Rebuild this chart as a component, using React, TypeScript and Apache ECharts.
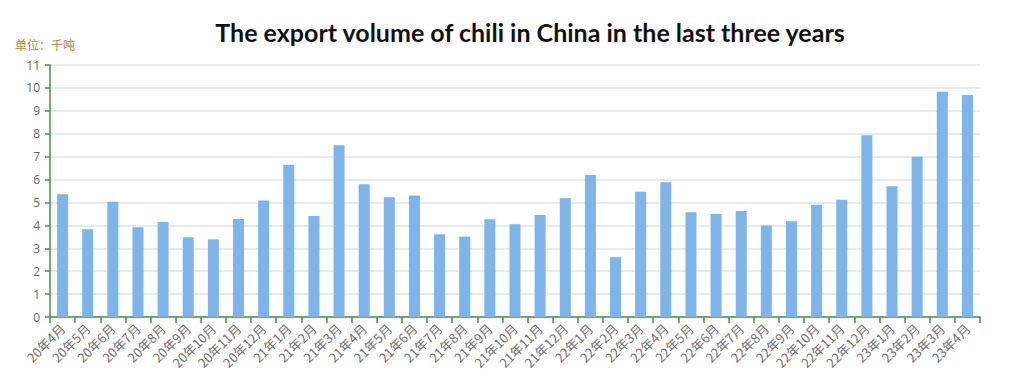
import React, { useEffect, useRef } from "react";
import * as echarts from "echarts";

const categories = [
  "20年4月", "20年5月", "20年6月", "20年7月", "20年8月", "20年9月", "20年10月", "20年11月", "20年12月",
  "21年1月", "21年2月", "21年3月", "21年4月", "21年5月", "21年6月", "21年7月", "21年8月", "21年9月", "21年10月", "21年11月", "21年12月",
  "22年1月", "22年2月", "22年3月", "22年4月", "22年5月", "22年6月", "22年7月", "22年8月", "22年9月", "22年10月", "22年11月", "22年12月",
  "23年1月", "23年2月", "23年3月", "23年4月",
];

const exportVolume = [
  5.36, 3.83, 5.03, 3.92, 4.15, 3.48, 3.39, 4.28, 5.08,
  6.65, 4.41, 7.5, 5.79, 5.23, 5.3, 3.61, 3.51, 4.27, 4.05, 4.45, 5.18,
  6.2, 2.61, 5.47, 5.88, 4.57, 4.5, 4.63, 3.99, 4.18, 4.9, 5.12, 7.93,
  5.71, 7.0, 9.83, 9.69,
];

const titleText = "The export volume of chili in China in the last three years";
const unitText = "单位：千吨";

export default function App() {
  const ref = useRef<HTMLDivElement>(null);
  useEffect(() => {
    if (!ref.current) return;
    const chart = echarts.init(ref.current, null, { renderer: "svg" });
    chart.setOption({
      animation: false,
      backgroundColor: "#ffffff",
      title: {
        text: titleText,
        left: 525,
        textAlign: "center",
        top: 14,
        textStyle: {
          fontFamily: "Lato",
          fontWeight: 700,
          fontSize: 25,
          color: "#111111",
        },
      },
      graphic: [
        {
          type: "text",
          left: 15,
          top: 38,
          style: {
            text: unitText,
            fill: "#c47a35",
            font: "12px 'Noto Sans CJK SC'",
          },
        },
      ],
      grid: { left: 50, right: 44, top: 65, bottom: 70, containLabel: false },
      xAxis: {
        type: "category",
        data: categories,
        boundaryGap: true,
        axisLine: { show: true, lineStyle: { color: "#3c9a3c", width: 1.5 } },
        axisTick: { show: true, alignWithLabel: false, length: 6, lineStyle: { color: "#3c9a3c", width: 1.5 } },
        axisLabel: {
          interval: 0,
          rotate: 45,
          color: "#707070",
          fontSize: 13,
          fontFamily: "Noto Sans CJK SC",
          margin: 9,
        },
      },
      yAxis: {
        type: "value",
        min: 0,
        max: 11,
        interval: 1,
        axisLine: { show: true, lineStyle: { color: "#3c9a3c", width: 1.5 } },
        axisTick: { show: true, length: 5, lineStyle: { color: "#3c9a3c", width: 1.5 } },
        axisLabel: { color: "#666666", fontSize: 12, fontFamily: "Open Sans", margin: 10 },
        splitLine: { show: true, lineStyle: { color: "#e3e3e3", width: 1.5 } },
      },
      series: [
        {
          type: "bar",
          data: exportVolume,
          barWidth: 11,
          itemStyle: { color: "#7cb4ec" },
        },
      ],
    });
    return () => chart.dispose();
  }, []);
  return (
    <div
      ref={ref}
      style={{ position: "absolute", left: 0, top: 0, width: 1024, height: 387 }}
    />
  );
}
